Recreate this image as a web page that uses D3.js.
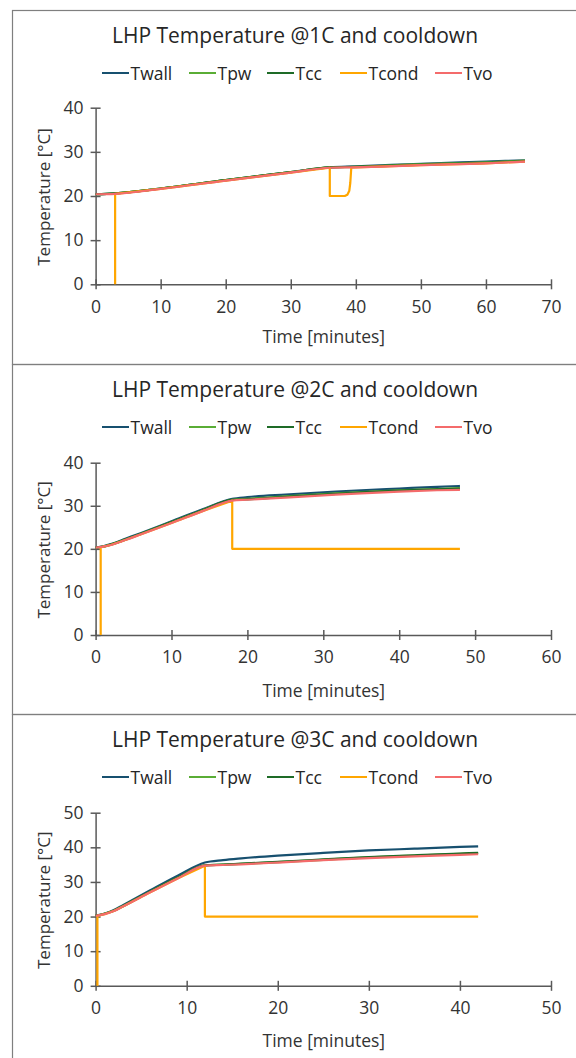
<!DOCTYPE html>
<html>
<head>
<meta charset="utf-8">
<script src="https://cdn.jsdelivr.net/npm/d3@7"></script>
<style>
  body { margin: 0; background: #fff; }
  svg { display: block; font-family: "Open Sans", sans-serif; }
</style>
</head>
<body>
<div id="chart"></div>
<script>
// series names and colours
const seriesNames = ["Twall", "Tpw", "Tcc", "Tcond", "Tvo"];
const seriesColors = ["#17506f", "#5aad35", "#1e6b27", "#ffa600", "#f46b6b"];

// ---- 1C ----
const time1  = [0, 3, 10, 20, 30, 36, 40, 50, 60, 66];
const twall1 = [20.4, 20.6, 21.7, 23.6, 25.4, 26.5, 26.7, 27.3, 27.8, 28.1];
const tpw1   = [20.4, 20.6, 21.7, 23.6, 25.4, 26.5, 26.6, 27.2, 27.6, 28.0];
const tcc1   = [20.4, 20.6, 21.7, 23.6, 25.4, 26.5, 26.6, 27.1, 27.5, 27.9];
const tvo1   = [20.4, 20.5, 21.6, 23.5, 25.3, 26.4, 26.5, 27.0, 27.4, 27.8];
const condTime1 = [3, 3, 10, 20, 30, 36, 36, 38.3, 38.7, 39.0, 39.15, 39.3, 40, 50, 60, 66];
const cond1     = [0, 20.5, 21.6, 23.5, 25.3, 26.4, 20, 20, 20.3, 21.2, 23, 26.4, 26.5, 27.0, 27.4, 27.8];

// ---- 2C ----
const time2  = [0, 1, 2, 4, 6, 10, 14, 18, 20, 25, 30, 35, 40, 45, 48];
const twall2 = [20.3, 20.6, 21.1, 22.4, 23.7, 26.4, 29.1, 31.6, 32.0, 32.6, 33.1, 33.6, 34.0, 34.4, 34.6];
const tpw2   = [20.3, 20.5, 21.0, 22.2, 23.5, 26.2, 28.9, 31.4, 31.6, 32.2, 32.7, 33.2, 33.6, 33.9, 34.1];
const tcc2   = [20.3, 20.5, 21.0, 22.2, 23.5, 26.2, 28.9, 31.4, 31.5, 32.1, 32.6, 33.1, 33.5, 33.8, 34.0];
const tvo2   = [20.3, 20.5, 20.9, 22.1, 23.4, 26.0, 28.7, 31.2, 31.4, 31.9, 32.4, 32.9, 33.3, 33.6, 33.7];
const condTime2 = [0.67, 0.67, 1, 2, 4, 6, 10, 14, 18, 18, 30, 48];
const cond2     = [0, 20.3, 20.5, 20.9, 22.1, 23.4, 26.0, 28.7, 31.2, 20, 20, 20];

// ---- 3C ----
const time3  = [0, 1, 2, 3, 6, 9, 12, 14, 16, 20, 25, 30, 35, 40, 42];
const twall3 = [20.3, 20.9, 21.9, 23.3, 27.6, 31.8, 35.6, 36.3, 36.8, 37.6, 38.4, 39.1, 39.6, 40.1, 40.3];
const tpw3   = [20.2, 20.8, 21.7, 23.0, 27.2, 31.2, 34.8, 35.0, 35.2, 35.7, 36.4, 37.1, 37.6, 38.1, 38.3];
const tcc3   = [20.2, 20.8, 21.7, 23.0, 27.2, 31.2, 34.8, 35.0, 35.3, 35.8, 36.5, 37.2, 37.7, 38.2, 38.4];
const tvo3   = [20.2, 20.7, 21.6, 22.9, 27.0, 31.0, 34.7, 34.9, 35.1, 35.6, 36.3, 36.9, 37.4, 37.8, 38.0];
const condTime3 = [0.2, 0.2, 1, 2, 3, 6, 9, 12, 12, 30, 42];
const cond3     = [0, 20.2, 20.7, 21.6, 22.9, 27.0, 31.0, 34.7, 20, 20, 20];

const titles = ["LHP Temperature @1C and cooldown", "LHP Temperature @2C and cooldown", "LHP Temperature @3C and cooldown"];
const xMax = [70, 60, 50];
const yMax = [40, 40, 50];

const width = 576, height = 1058;
const svg = d3.select("#chart").append("svg")
    .attr("width", width)
    .attr("height", height);

// panel frames
const panelTops = [10, 364, 714];
const panelBottoms = [364, 714, 1062];
const plotTop = [107.7, 462.7, 812.7];
const plotBottom = [284.3, 635, 985.8];
const plotLeft = 95.6, plotRight = 551;

const panels = [
  {t: time1, s: [twall1, tpw1, tcc1, null, tvo1], ct: condTime1, c: cond1},
  {t: time2, s: [twall2, tpw2, tcc2, null, tvo2], ct: condTime2, c: cond2},
  {t: time3, s: [twall3, tpw3, tcc3, null, tvo3], ct: condTime3, c: cond3}
];

panels.forEach((p, i) => {
  const top = panelTops[i];

  svg.append("rect")
      .attr("x", 12.5).attr("y", top + 0.5)
      .attr("width", 580).attr("height", panelBottoms[i] - top)
      .attr("fill", "none")
      .attr("stroke", "#7f7f7f")
      .attr("stroke-width", 1.2);

  const x = d3.scaleLinear().domain([0, xMax[i]]).range([plotLeft, plotRight]);
  const y = d3.scaleLinear().domain([0, yMax[i]]).range([plotBottom[i], plotTop[i]]);

  // title
  svg.append("text")
      .attr("x", 295).attr("y", top + 25)
      .attr("text-anchor", "middle")
      .attr("dominant-baseline", "central")
      .attr("font-size", 21)
      .attr("fill", "#262626")
      .text(titles[i]);

  // legend
  const legX = [102, 189, 267, 340, 435];
  seriesNames.forEach((name, k) => {
    const g = svg.append("g").attr("transform", `translate(${legX[k]},${top + 63})`);
    g.append("line")
        .attr("x1", 0).attr("x2", 27)
        .attr("stroke", seriesColors[k])
        .attr("stroke-width", 2);
    g.append("text")
        .attr("x", 28.5)
        .attr("dominant-baseline", "central")
        .attr("font-size", 17.5)
        .attr("fill", "#262626")
        .text(name);
  });

  // axes
  const xAxis = svg.append("g")
      .attr("transform", `translate(0,${plotBottom[i]})`)
      .call(d3.axisBottom(x).ticks(xMax[i] / 10).tickSizeInner(5).tickSizeOuter(0).tickPadding(11));
  xAxis.selectAll(".tick line").attr("y1", -5);

  const yAxis = svg.append("g")
      .attr("transform", `translate(${plotLeft},0)`)
      .call(d3.axisLeft(y).ticks(yMax[i] / 10).tickSizeInner(5).tickSizeOuter(0).tickPadding(7));
  yAxis.selectAll(".tick line").attr("x1", 5);

  [xAxis, yAxis].forEach(a => {
    a.select(".domain").attr("stroke", "#595959").attr("stroke-width", 1.5);
    a.selectAll(".tick line").attr("stroke", "#595959").attr("stroke-width", 1.5);
    a.selectAll(".tick text").attr("font-size", 17.5).attr("fill", "#333").attr("font-family", "Open Sans, sans-serif");
  });

  // axis titles
  svg.append("text")
      .attr("x", (plotLeft + plotRight) / 2 + 0.5).attr("y", top + 326)
      .attr("text-anchor", "middle")
      .attr("dominant-baseline", "central")
      .attr("font-size", 17.5)
      .attr("fill", "#333")
      .text("Time [minutes]");
  svg.append("text")
      .attr("transform", `translate(43,${(plotTop[i] + plotBottom[i]) / 2 + 1}) rotate(-90)`)
      .attr("text-anchor", "middle")
      .attr("dominant-baseline", "central")
      .attr("font-size", 17)
      .attr("fill", "#333")
      .text("Temperature [°C]");

  // lines
  const smooth = d3.line().x(d => x(d[0])).y(d => y(d[1])).curve(d3.curveMonotoneX);
  const straight = d3.line().x(d => x(d[0])).y(d => y(d[1]));
  seriesNames.forEach((name, k) => {
    let pts, gen;
    if (k === 3) {
      pts = p.ct.map((t, j) => [t, p.c[j]]);
      gen = straight;
    } else {
      pts = p.t.map((t, j) => [t, p.s[k][j]]);
      gen = smooth;
    }
    svg.append("path")
        .datum(pts)
        .attr("fill", "none")
        .attr("stroke", seriesColors[k])
        .attr("stroke-width", 2.2)
        .attr("stroke-linejoin", "round")
        .attr("d", gen);
  });
});
</script>
</body>
</html>
